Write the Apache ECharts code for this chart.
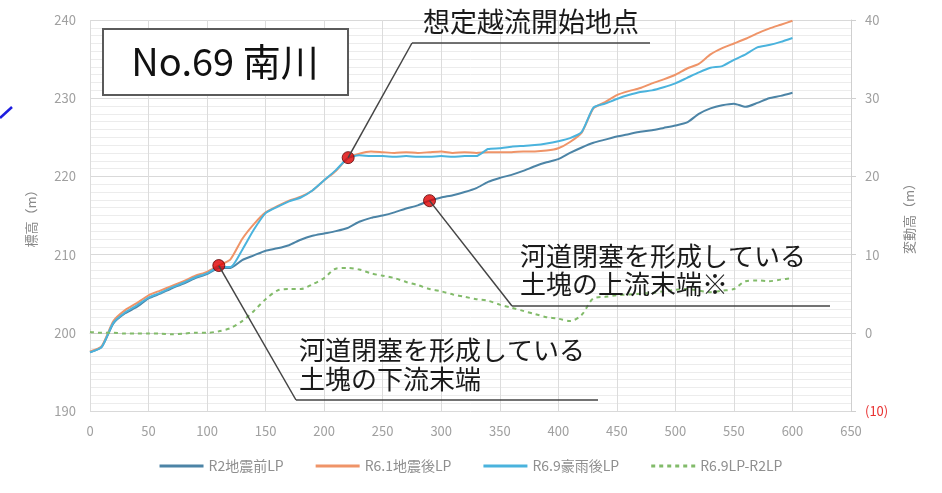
<!DOCTYPE html>
<html>
<head>
<meta charset="utf-8">
<script src="https://cdn.jsdelivr.net/npm/echarts@6/dist/echarts.min.js"></script>
<style>
html,body{margin:0;padding:0;background:#fff;}
#chart{width:942px;height:493px;}
</style>
</head>
<body>
<div id="chart"></div>
<script>
// Distance (m)
const distance = [0,10,20,30,40,50,60,70,80,90,100,110,120,130,140,150,160,170,180,190,200,210,220,230,240,250,260,270,280,290,300,310,320,330,340,350,360,370,380,390,400,410,420,430,440,450,460,470,480,490,500,510,520,530,540,550,560,570,580,590,600];
// R2地震前LP (m)
const r2Before = [197.5,198.2,201.2,202.5,203.3,204.4,205.0,205.7,206.3,207.0,207.5,208.3,208.3,209.3,209.9,210.5,210.8,211.2,211.9,212.4,212.7,213.0,213.4,214.2,214.7,215.0,215.4,215.9,216.3,216.9,217.3,217.6,218.0,218.5,219.3,219.8,220.2,220.7,221.3,221.8,222.2,223.0,223.7,224.3,224.7,225.1,225.4,225.7,225.9,226.2,226.5,226.9,228.0,228.7,229.1,229.3,228.9,229.4,230.0,230.3,230.7];
// R6.1地震後LP (m)
const r61After = [197.6,198.3,201.5,202.9,203.8,204.8,205.4,206.0,206.6,207.3,207.8,208.6,209.4,212.0,213.9,215.4,216.2,216.9,217.4,218.2,219.5,220.7,222.3,222.9,223.2,223.1,223.0,223.1,223.0,223.1,223.2,223.0,223.1,223.0,223.1,223.1,223.1,223.2,223.2,223.3,223.6,224.4,225.6,228.7,229.5,230.4,230.9,231.3,231.9,232.4,233.0,233.8,234.4,235.6,236.4,237.0,237.6,238.3,238.9,239.4,239.9];
// R6.9豪雨後LP (m)
const r69Rain = [197.5,198.2,201.3,202.6,203.5,204.5,205.1,205.8,206.4,207.1,207.6,208.4,208.4,210.6,213.2,215.3,216.1,216.8,217.3,218.2,219.5,220.8,222.3,222.7,222.6,222.6,222.5,222.6,222.5,222.5,222.6,222.5,222.6,222.6,223.5,223.6,223.8,223.9,224.0,224.2,224.5,224.9,225.7,228.8,229.3,229.9,230.4,230.8,231.0,231.4,231.9,232.6,233.3,233.9,234.1,234.9,235.6,236.5,236.8,237.2,237.7];
// R6.9LP-R2LP (m, right axis)
const diff = [0.1,0.0,0.0,-0.1,-0.1,-0.1,-0.1,-0.2,-0.1,0.0,0.0,0.2,0.6,1.5,2.8,4.3,5.4,5.6,5.6,6.2,7.0,8.2,8.3,8.1,7.6,7.3,7.0,6.5,6.1,5.6,5.3,4.9,4.6,4.3,4.1,3.6,3.2,2.8,2.4,2.0,1.8,1.5,2.3,4.4,4.6,4.8,4.9,5.0,5.1,5.3,5.5,5.6,5.4,5.2,5.4,5.6,6.6,6.7,6.6,6.8,7.0];
// Marked points [distance, elevation]
const markerPoints = [[110,208.6],[220.5,222.4],[290,216.9]];
const seriesNames = ['R2地震前LP','R6.1地震後LP','R6.9豪雨後LP','R6.9LP-R2LP'];
const titleText = 'No.69 南川';
const noteTop = '想定越流開始地点';
const noteUp = ['河道閉塞を形成している','土塊の上流末端※'];
const noteDown = ['河道閉塞を形成している','土塊の下流末端'];

const FONT = '"Noto Sans CJK JP","Noto Sans",sans-serif';
const chart = echarts.init(document.getElementById('chart'));
const pair = arr => distance.map((d,i)=>[d,arr[i]]);

const solidIcon = 'path://M0,0h44v3h-44z';
const dashIcon = 'path://M0,0h4v3h-4z M8,0h4v3h-4z M16,0h4v3h-4z M24,0h4v3h-4z M32,0h4v3h-4z M40,0h4v3h-4z';

chart.setOption({
  animation:false,
  textStyle:{fontFamily:FONT},
  grid:{left:90,right:91,top:20,bottom:82,containLabel:false},
  legend:{
    data:[
      {name:seriesNames[0],icon:solidIcon},
      {name:seriesNames[1],icon:solidIcon},
      {name:seriesNames[2],icon:solidIcon},
      {name:seriesNames[3],icon:dashIcon}
    ],
    bottom:15, left:'center', itemWidth:44, itemHeight:3, itemGap:32,
    textStyle:{color:'#8f8f8f',fontSize:14,fontFamily:FONT}
  },
  xAxis:{
    type:'value', min:0, max:650, interval:50,
    axisLine:{show:true,lineStyle:{color:'#cfcfcf'}},
    axisTick:{show:true,inside:true,length:4,lineStyle:{color:'#cfcfcf'}},
    axisLabel:{color:'#a0a0a0',fontSize:13,margin:14},
    splitLine:{show:true,lineStyle:{color:'#dcdcdc'}}
  },
  yAxis:[{
    type:'value', min:190, max:240, interval:10, position:'left',
    name:'標高（m）', nameLocation:'middle', nameGap:52, nameRotate:90,
    nameTextStyle:{color:'#888',fontSize:13},
    axisLine:{show:false}, axisTick:{show:false},
    axisLabel:{color:'#a0a0a0',fontSize:13,margin:14},
    splitLine:{show:true,lineStyle:{color:'#d9d9d9'}},
    minorTick:{show:false,splitNumber:10},
    minorSplitLine:{show:true,lineStyle:{color:'#ececec'}}
  },{
    type:'value', min:-10, max:40, interval:10, position:'right',
    name:'変動高（m）', nameLocation:'middle', nameGap:52, nameRotate:90,
    nameTextStyle:{color:'#888',fontSize:13},
    axisLine:{show:true,lineStyle:{color:'#cfcfcf'}},
    axisTick:{show:true,length:5,lineStyle:{color:'#cfcfcf'}},
    axisLabel:{fontSize:13,margin:14,
      formatter:v=> v<0 ? '('+(-v)+')' : String(v),
      color:v=> v<0 ? '#e83030' : '#a0a0a0'},
    splitLine:{show:false}
  }],
  series:[
    {name:seriesNames[0],type:'line',data:pair(r2Before),symbol:'none',smooth:0.2,
     lineStyle:{color:'#4c84a6',width:2},itemStyle:{color:'#4c84a6'},z:3},
    {name:seriesNames[1],type:'line',data:pair(r61After),symbol:'none',smooth:0.2,
     lineStyle:{color:'#ef9468',width:2},itemStyle:{color:'#ef9468'},z:3},
    {name:seriesNames[2],type:'line',data:pair(r69Rain),symbol:'none',smooth:0.2,
     lineStyle:{color:'#4ab3dd',width:2},itemStyle:{color:'#4ab3dd'},z:3},
    {name:seriesNames[3],type:'line',yAxisIndex:1,data:pair(diff),symbol:'none',smooth:0.3,
     lineStyle:{color:'#82bb6a',width:2,type:[4,4]},itemStyle:{color:'#82bb6a'},z:3},
    {name:'markers',type:'scatter',data:markerPoints,symbol:'circle',symbolSize:12,
     itemStyle:{color:'#e00000',borderColor:'#5a0000',borderWidth:1},z:10}
  ]
});

const px = p => chart.convertToPixel({xAxisIndex:0,yAxisIndex:0},p);
const d1 = px(markerPoints[0]), d2 = px(markerPoints[1]), d3 = px(markerPoints[2]);
const LC = '#444';
const txt = (x,y,s,size) => ({type:'text',left:x,top:y,z:20,
  style:{text:s,fill:'#1a1a1a',font:'normal '+size+'px '+FONT}});
const line = (x1,y1,x2,y2,c,w) => ({type:'line',z:15,shape:{x1,y1,x2,y2},style:{stroke:c,lineWidth:w}});

chart.setOption({graphic:[
  line(0,118,12,107,'#1d1de0',2.5),
  {type:'rect',z:12,shape:{x:103,y:29,width:245,height:66},style:{fill:'#fff',stroke:'#5a5a5a',lineWidth:2}},
  {type:'text',z:13,x:225,y:62,style:{text:titleText,fill:'#111',font:'normal 38px '+FONT,align:'center',verticalAlign:'middle'}},
  // top note
  line(d2[0],d2[1],412,43,LC,1.5), line(412,43,650,43,LC,1.5),
  txt(423,8,noteTop,27),
  // upstream note
  line(d3[0],d3[1],512,306,LC,1.5), line(512,306,830,306,LC,1.5),
  txt(520,243,noteUp[0],26), txt(520,271,noteUp[1],26),
  // downstream note
  line(d1[0],d1[1],296,400,LC,1.5), line(296,400,598,400,LC,1.5),
  txt(299,337,noteDown[0],26), txt(299,366,noteDown[1],26)
]});
</script>
</body>
</html>
